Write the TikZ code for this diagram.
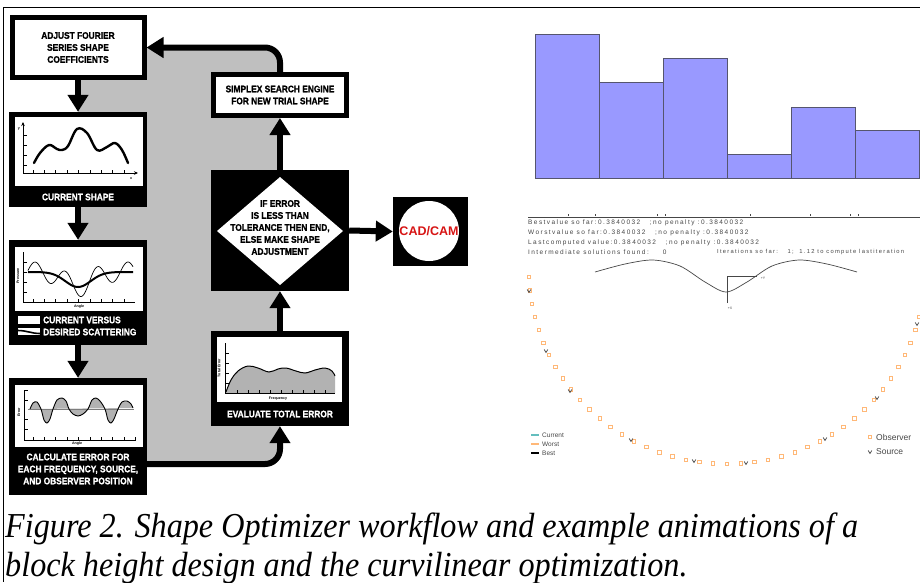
\documentclass[tikz,border=0pt]{standalone}
\usepackage{fontspec}
\setmainfont{Liberation Sans}
\newfontfamily\flowfont[FakeStretch=0.88, FakeBold=1]{Liberation Sans Bold}
\newfontfamily\capfont[FakeStretch=0.92]{Liberation Serif}
\newfontfamily\plotfont[LetterSpace=22]{Liberation Sans}
\usetikzlibrary{arrows.meta}
\definecolor{loopgray}{RGB}{191,191,191}
\definecolor{chartgray}{RGB}{178,178,178}
\definecolor{barblue}{RGB}{153,153,255}
\definecolor{baredge}{RGB}{85,85,110}
\definecolor{obsorange}{RGB}{255,184,120}
\definecolor{curteal}{RGB}{100,190,190}
\definecolor{cadred}{RGB}{215,20,20}
\definecolor{plotgray}{RGB}{70,70,70}
\tikzset{
  flowbox/.style  = {draw=black, line width=5pt, fill=white, align=center,
                     inner sep=0pt, font=\flowfont\fontsize{9.5}{12}\selectfont},
  blackbox/.style = {fill=black, inner sep=0pt},
  boxlabel/.style = {text=white, align=center, inner sep=0pt,
                     font=\flowfont\fontsize{9.5}{12}\selectfont},
  flowarrow/.style = {line width=6pt, -{Triangle[width=20pt,length=17pt]}},
  chartax/.style  = {line width=0.7pt},
  axlabel/.style  = {inner sep=0pt, font=\bfseries\fontsize{3.6}{4}\selectfont},
  plottext/.style = {anchor=west, inner sep=0pt, text=plotgray,
                     font=\plotfont\fontsize{6.5}{7}\selectfont},
  legtext/.style  = {anchor=west, inner sep=0pt, text=plotgray},
  obsbox/.style   = {draw=obsorange, line width=0.9pt},
  srcmark/.pic    = {\draw[plotgray, line width=0.7pt] (-1.8,-1.5) -- (0,1.5) -- (1.8,-1.5);}
}
\begin{document}
\begin{tikzpicture}[x=1pt,y=-1pt]
\useasboundingbox (0,0) rectangle (920,582);
\draw[line width=1.5pt] (3,7.5) -- (920,7.5);
\draw[line width=1pt] (3,7) -- (3,582);

% grey area inside the loop
\fill[loopgray, rounded corners=15pt] (78,47) -- (280,47) -- (280,464) -- (78,464) -- cycle;

% left column
\node[flowbox, minimum width=132pt, minimum height=60pt] (adjust) at (78,47.5)
  {ADJUST FOURIER\\SERIES SHAPE\\COEFFICIENTS};

\node[blackbox, minimum width=138pt, minimum height=95pt] (curshape) at (78,159.5) {};
\fill[white] (15,117) rectangle (143,186);
\draw[chartax, -{Stealth[length=4pt,width=3.5pt]}] (23,173) -- (23,122);
\draw[chartax, -{Stealth[length=4pt,width=3.5pt]}] (23,173) -- (138,173);
\foreach \t in {135,145,155,165} \draw[chartax] (23,\t) -- (27,\t);
\foreach \t in {33,44.4,...,125} \draw[chartax] (\t,173) -- (\t,170);
\node[axlabel] at (19,129) {y};
\node[axlabel] at (131,179) {x};
\draw[line width=2.4pt, line cap=round] plot[smooth, tension=0.6] coordinates
  {(34,163) (40,153) (49,145) (57,149) (62,150) (68,146) (77,129) (87,133) (97,150)
   (107,147) (115,143) (122,150) (128,163)};
\node[boxlabel] at (78,197) {CURRENT SHAPE};

\node[blackbox, minimum width=138pt, minimum height=105pt] (scatter) at (78,292.5) {};
\fill[white] (15,247) rectangle (143,311);
\draw[chartax] (23,252) -- (23,302) -- (135,302);
\foreach \t in {262,272,282,292} \draw[chartax] (23,\t) -- (27,\t);
\foreach \t in {33,44.4,...,125} \draw[chartax] (\t,302) -- (\t,299);
\node[axlabel, rotate=90] at (18,276) {Pressure};
\node[axlabel] at (79,307) {Angle};
\draw[line width=0.7pt] plot[domain=28:133, samples=120]
  (\x, {272+15*exp(-(((\x-78)/18)^2))-10*cos(11.613*(\x-35))});
\draw[line width=2pt] plot[domain=28:133, samples=80]
  (\x, {272+15*exp(-(((\x-78)/18)^2))});
\fill[white] (18,316) rectangle (40,324);
\node[boxlabel, anchor=west] at (43,320) {CURRENT VERSUS};
\fill[white] (18,328) rectangle (40,335);
\draw[line width=1.6pt] (18,330.5) to[out=0, in=180] (40,333.5);
\node[boxlabel, anchor=west] at (43,332) {DESIRED SCATTERING};

\node[blackbox, minimum width=138pt, minimum height=117pt] (calcerr) at (78,436.5) {};
\fill[white] (15,385) rectangle (143,447);
\fill[chartgray] plot[smooth, tension=0.5] coordinates
  {(30,409) (33,403) (37,402) (41,409) (44,420) (47,423) (50,419) (53,409) (57,400)
   (62,398) (66,401) (69,409) (73,414) (78,416) (83,414) (88,409) (92,400) (96,398)
   (100,401) (105,409) (108,420) (111,423) (114,419) (118,409) (122,402) (127,401)
   (131,404) (133,408)} -- cycle;
\draw[chartgray!70!black, line width=0.6pt] (28,409) -- (134,409);
\draw[line width=0.9pt] plot[smooth, tension=0.5] coordinates
  {(30,409) (33,403) (37,402) (41,409) (44,420) (47,423) (50,419) (53,409) (57,400)
   (62,398) (66,401) (69,409) (73,414) (78,416) (83,414) (88,409) (92,400) (96,398)
   (100,401) (105,409) (108,420) (111,423) (114,419) (118,409) (122,402) (127,401)
   (131,404) (133,408)};
\draw[chartax] (24,390) -- (24,440) -- (136,440);
\foreach \t in {390,400,419,429} \draw[chartax] (24,\t) -- (28,\t);
\foreach \t in {33,44.4,...,136} \draw[chartax] (\t,440) -- (\t,437);
\node[axlabel, rotate=90] at (19,412) {Error};
\node[axlabel] at (77,444) {Angle};
\node[boxlabel] at (78,469) {CALCULATE ERROR FOR\\EACH FREQUENCY, SOURCE,\\AND OBSERVER POSITION};

% right column
\node[flowbox, minimum width=133pt, minimum height=41pt] (simplex) at (280,95)
  {SIMPLEX SEARCH ENGINE\\FOR NEW TRIAL SHAPE};

\node[blackbox, minimum width=138pt, minimum height=121pt] (decide) at (280,230.5) {};
\fill[white] (280,177) -- (343,231) -- (280,285) -- (217,231) -- cycle;
\node[flowbox, draw=none, fill=none] at (280,227.5)
  {IF ERROR\\IS LESS THAN\\TOLERANCE THEN END,\\ELSE MAKE SHAPE\\ADJUSTMENT};

\node[blackbox, minimum width=75pt, minimum height=69pt] (cadcam) at (430.5,231.5) {};
\fill[white] (429,231) circle (30pt);
\node[text=cadred, font=\bfseries\fontsize{12.5}{14}\selectfont] at (429,231) {CAD/CAM};

\node[blackbox, minimum width=138pt, minimum height=95pt] (evalbox) at (280,378.5) {};
\fill[white] (217,337) rectangle (342,402);
\fill[chartgray] (226,393) -- plot[smooth, tension=0.6] coordinates
  {(226,392) (231,380) (238,371) (248,366) (258,368) (269,372) (278,369) (286,368)
   (296,371) (305,373) (315,370) (325,368) (332,371) (335,376)} -- (335,393) -- cycle;
\draw[line width=1pt] plot[smooth, tension=0.6] coordinates
  {(226,392) (231,380) (238,371) (248,366) (258,368) (269,372) (278,369) (286,368)
   (296,371) (305,373) (315,370) (325,368) (332,371) (335,376)};
\draw[chartax] (225,343) -- (225,393) -- (335,393);
\foreach \t in {353,363,373,383} \draw[chartax] (225,\t) -- (229,\t);
\foreach \t in {237,248,...,335} \draw[chartax] (\t,393) -- (\t,390);
\node[axlabel, rotate=90] at (219,368) {Total Error};
\node[axlabel] at (278,399) {Frequency};
\node[boxlabel] at (280,414) {EVALUATE TOTAL ERROR};

% connectors
\draw[flowarrow] (adjust.south) -- (curshape.north);
\draw[flowarrow] (curshape.south) -- (scatter.north);
\draw[flowarrow] (scatter.south) -- (calcerr.north);
\coordinate (loopin) at (147,464);
\draw[flowarrow, rounded corners=15pt] (loopin) -| (evalbox.south);
\draw[flowarrow] (evalbox.north) -- (decide.south);
\draw[flowarrow] (decide.north) -- (simplex.south);
\draw[flowarrow, rounded corners=15pt] (simplex.north) |- (adjust.east);
\draw[flowarrow] (decide.east) -- (cadcam.west);

% bar chart
\foreach \l/\r/\h in {535/599/34, 599/663/82, 663/727/58, 727/791/154, 791/855/107, 855/919/130}
  \draw[fill=barblue, draw=baredge, line width=0.8pt] (\l,178) rectangle (\r,\h);

% optimisation view
\draw[plotgray, line width=1pt] (528,217) -- (920,217);
\foreach \t in {568,595,657,665,750,810,850,858} \draw[plotgray, line width=0.6pt] (\t,214) -- (\t,215.5);
\node[plottext] at (528,223) {Bestvalue so far:0.3840032 \ \ ;no penalty :0.3840032};
\node[plottext] at (528,233) {Worstvalue so far:0.3840032 \ \ ;no penalty :0.3840032};
\node[plottext] at (528,243) {Lastcomputed value:0.3840032 \ \ ;no penalty :0.3840032};
\node[plottext] at (528,252) {Intermediate solutions found: \ \ \ 0};
\node[plottext, font=\plotfont\fontsize{5.8}{7}\selectfont] at (717,252)
  {Iterations so far: \ \ 1; \ 1.12 to compute lastiteration};
\draw[plotgray, line width=0.7pt] plot[smooth] coordinates
  {(595,272) (625,264) (653,260) (680,266) (705,282) (726,292) (747,282) (772,266)
   (799,260) (827,264) (857,272)};
\draw[plotgray, line width=0.8pt] (727,303) -- (727,276) -- (757,276);
\node[inner sep=0pt, text=plotgray, font=\fontsize{3.5}{4}\selectfont] at (730,308) {+X};
\node[inner sep=0pt, text=plotgray, font=\fontsize{3.5}{4}\selectfont] at (763,278) {+Y};
\foreach \a in {2,6,...,178}
  \draw[obsbox] ({727+198*cos(\a)-1.7},{270+194*sin(\a)-1.7}) rectangle ++(3.4,3.4);
\foreach \p in {(529,291),(546,351),(570,391),(631,440),(694,461),(746,463),(825,439),(877,398),(917,324)}
  \pic at \p {srcmark};
\draw[curteal, line width=1.2pt] (531,435) -- (539,435);
\draw[obsorange, line width=1.2pt] (531,444) -- (539,444);
\draw[black, line width=1.2pt] (531,453) -- (539,453);
\node[legtext, font=\fontsize{6.5}{7}\selectfont] at (542,435) {Current};
\node[legtext, font=\fontsize{6.5}{7}\selectfont] at (542,444) {Worst};
\node[legtext, font=\fontsize{6.5}{7}\selectfont] at (542,453) {Best};
\draw[obsbox] (868.3,435.3) rectangle ++(3.4,3.4);
\node[legtext, font=\fontsize{8.5}{9}\selectfont] at (876,437) {Observer};
\pic at (870,452) {srcmark};
\node[legtext, font=\fontsize{8.5}{9}\selectfont] at (876,452) {Source};

% caption
\node[anchor=base west, inner sep=0pt, font=\capfont\itshape\fontsize{35}{40}\selectfont] (caption1) at (5,537)
  {Figure 2. Shape Optimizer workflow and example animations of a};
\node[anchor=base west, inner sep=0pt, font=\capfont\itshape\fontsize{35}{40}\selectfont] (caption2) at (5,576)
  {block height design and the curvilinear optimization.};
\end{tikzpicture}
\end{document}
